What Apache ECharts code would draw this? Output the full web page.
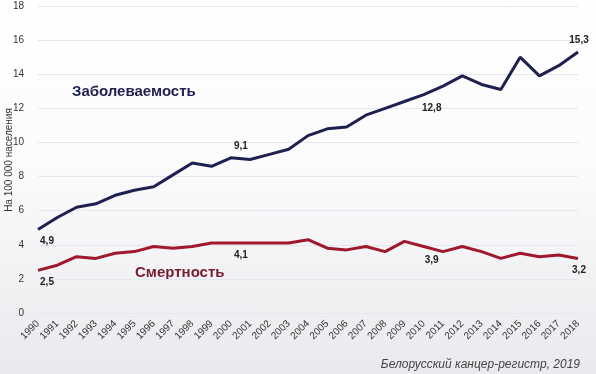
<!DOCTYPE html>
<html><head><meta charset="utf-8">
<script src="https://cdn.jsdelivr.net/npm/echarts@6/dist/echarts.min.js"></script>
<style>
html,body{margin:0;padding:0;}
body{background:linear-gradient(to bottom,#ffffff 0%,#fbfbfc 45%,#e9eaed 100%);}
#c{width:596px;height:374px;}
</style></head>
<body><div id="c"></div>
<script>
const years = ['1990','1991','1992','1993','1994','1995','1996','1997','1998','1999','2000','2001','2002','2003','2004','2005','2006','2007','2008','2009','2010','2011','2012','2013','2014','2015','2016','2017','2018'];
const incidence = [4.9,5.6,6.2,6.4,6.9,7.2,7.4,8.1,8.8,8.6,9.1,9.0,9.3,9.6,10.4,10.8,10.9,11.6,12.0,12.4,12.8,13.3,13.9,13.4,13.1,15.0,13.9,14.5,15.3];
const mortality = [2.5,2.8,3.3,3.2,3.5,3.6,3.9,3.8,3.9,4.1,4.1,4.1,4.1,4.1,4.3,3.8,3.7,3.9,3.6,4.2,3.9,3.6,3.9,3.6,3.2,3.5,3.3,3.4,3.2];
const yTicks = [0,2,4,6,8,10,12,14,16,18];
const incLabelIdx = {0:'bottom',10:'top',20:'bottom',28:'top'};
const morLabelIdx = {0:'bottom',10:'bottom',20:'bottom',28:'bottom'};
const labelShift = {0:[9,0],10:[10,0],20:[8,2],28:[1,0]};
const incName = 'Заболеваемость';
const morName = 'Смертность';
const yTitle = 'На 100 000 населения';
const source = 'Белорусский канцер-регистр, 2019';

function withLabels(vals, idx){
  return vals.map((v,i)=>{
    if(idx[i]===undefined) return v;
    return {value:v,label:{show:true,position:idx[i],offset:labelShift[i],formatter:String(v).replace('.',',')}};
  });
}
const chart = echarts.init(document.getElementById('c'));
chart.setOption({
  backgroundColor:'transparent',
  animation:false,
  grid:{left:38,right:18,top:6,bottom:61,containLabel:false,outerBoundsMode:'none'},
  xAxis:{type:'category',data:years,boundaryGap:false,
    axisLine:{show:false},axisTick:{show:false},
    axisLabel:{rotate:45,fontSize:10,color:'#333',margin:9,interval:0,fontFamily:'Liberation Sans'}},
  yAxis:{type:'value',min:yTicks[0],max:yTicks[yTicks.length-1],interval:2,
    axisLabel:{fontSize:10,color:'#333',margin:14,fontFamily:'Liberation Sans'},
    splitLine:{lineStyle:{color:'#e6e6ee',width:1}}},
  series:[
    {type:'line',data:withLabels(incidence,incLabelIdx),symbol:'circle',symbolSize:0,showSymbol:true,
     lineStyle:{color:'#1e2150',width:3},itemStyle:{color:'#1e2150'},
     label:{fontSize:10,fontWeight:'bold',color:'#222',distance:7,fontFamily:'Liberation Sans'}},
    {type:'line',data:withLabels(mortality,morLabelIdx),symbol:'circle',symbolSize:0,showSymbol:true,
     lineStyle:{color:'#a0182e',width:3},itemStyle:{color:'#a0182e'},
     label:{fontSize:10,fontWeight:'bold',color:'#222',distance:7,fontFamily:'Liberation Sans'}}
  ],
  graphic:[
    {type:'text',x:9,y:160,rotation:Math.PI/2,style:{text:yTitle,fill:'#333',font:'10px "Liberation Sans"',align:'center',verticalAlign:'middle'}},
    {type:'text',left:72,top:84,style:{text:incName,fill:'#1e2150',font:'bold 15px "Liberation Sans"'}},
    {type:'text',left:135,top:265,style:{text:morName,fill:'#7a1a30',font:'bold 15px "Liberation Sans"'}},
    {type:'text',right:16,top:359,style:{text:source,fill:'#444',font:'italic 12px "Liberation Sans"'}}
  ]
});
</script></body></html>
